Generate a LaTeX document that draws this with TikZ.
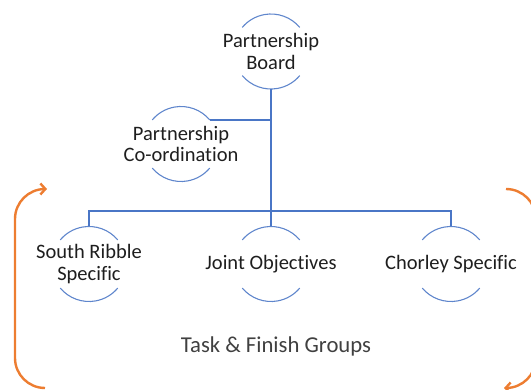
\documentclass[tikz,border=0pt]{standalone}
\usepackage{fontspec}
\setmainfont[Ligatures=NoCommon]{Carlito}
\usetikzlibrary{arrows.meta,calc}
\definecolor{bluel}{HTML}{4A76C6}
\definecolor{arcb}{HTML}{5F86CC}
\definecolor{orng}{HTML}{ED7D31}
\definecolor{txt}{HTML}{1E1E1E}
\definecolor{gtxt}{HTML}{404040}
\tikzset{
  lbl/.style={font=\fontsize{20.5}{21.5}\selectfont, align=center, text=txt, inner sep=0pt},
  arcst/.style={draw=arcb, line width=1.1pt},
  conn/.style={draw=bluel, line width=1.3pt},
  cyc/.style={draw=orng, line width=2.4pt, -{Straight Barb[length=5pt,width=11pt,line width=2.4pt]}},
}
\newcommand{\ringarcs}[1]{%
  \draw[arcst] ($(#1)+(40:37.5)$) arc (40:140:37.5);
  \draw[arcst] ($(#1)+(220:37.5)$) arc (220:320:37.5);
}
\begin{document}
\begin{tikzpicture}[x=1pt,y=1pt]
\useasboundingbox (0,0) rectangle (531,389);
\clip (0,0) rectangle (531,389);
% circle-labelled nodes
\node[lbl] (board) at (271,337.5) {Partnership\\Board};
\node[lbl] (coord) at (181,245) {Partnership\\Co-ordination};
\node[lbl] (south) at (89,125) {South Ribble\\Specific};
\node[lbl] (joint) at (271,125) {Joint Objectives};
\node[lbl] (chor) at (451,125) {Chorley Specific};
\ringarcs{board}
\ringarcs{coord}
\ringarcs{south}
\ringarcs{joint}
\ringarcs{chor}
% connectors
\coordinate (bbot) at ($(board)+(0,-37.5)$);
\coordinate (bar) at (271,178);
\coordinate (ctop) at ($(coord)+(40:37.5)$);
\draw[conn] (bbot) -- (bar) -- ($(joint)+(0,37.5)$);
\draw[conn] (ctop) -- (ctop -| board);
\draw[conn] ($(south)+(0,37.5)$) |- (bar) -| ($(chor)+(0,37.5)$);
% task & finish
\node[font=\fontsize{22.7}{25}\selectfont, text=gtxt, inner sep=0pt, anchor=base] (task) at (276,37) {Task \& Finish Groups};
% cycle arrows
\draw[cyc] (45,1) arc (270:180:30) -- (15,170) arc (180:90:30) -- (47,200);
\draw[cyc] (506,200) arc (90:0:30) -- (536,31) arc (0:-90:30) -- (504,1);
\end{tikzpicture}
\end{document}
